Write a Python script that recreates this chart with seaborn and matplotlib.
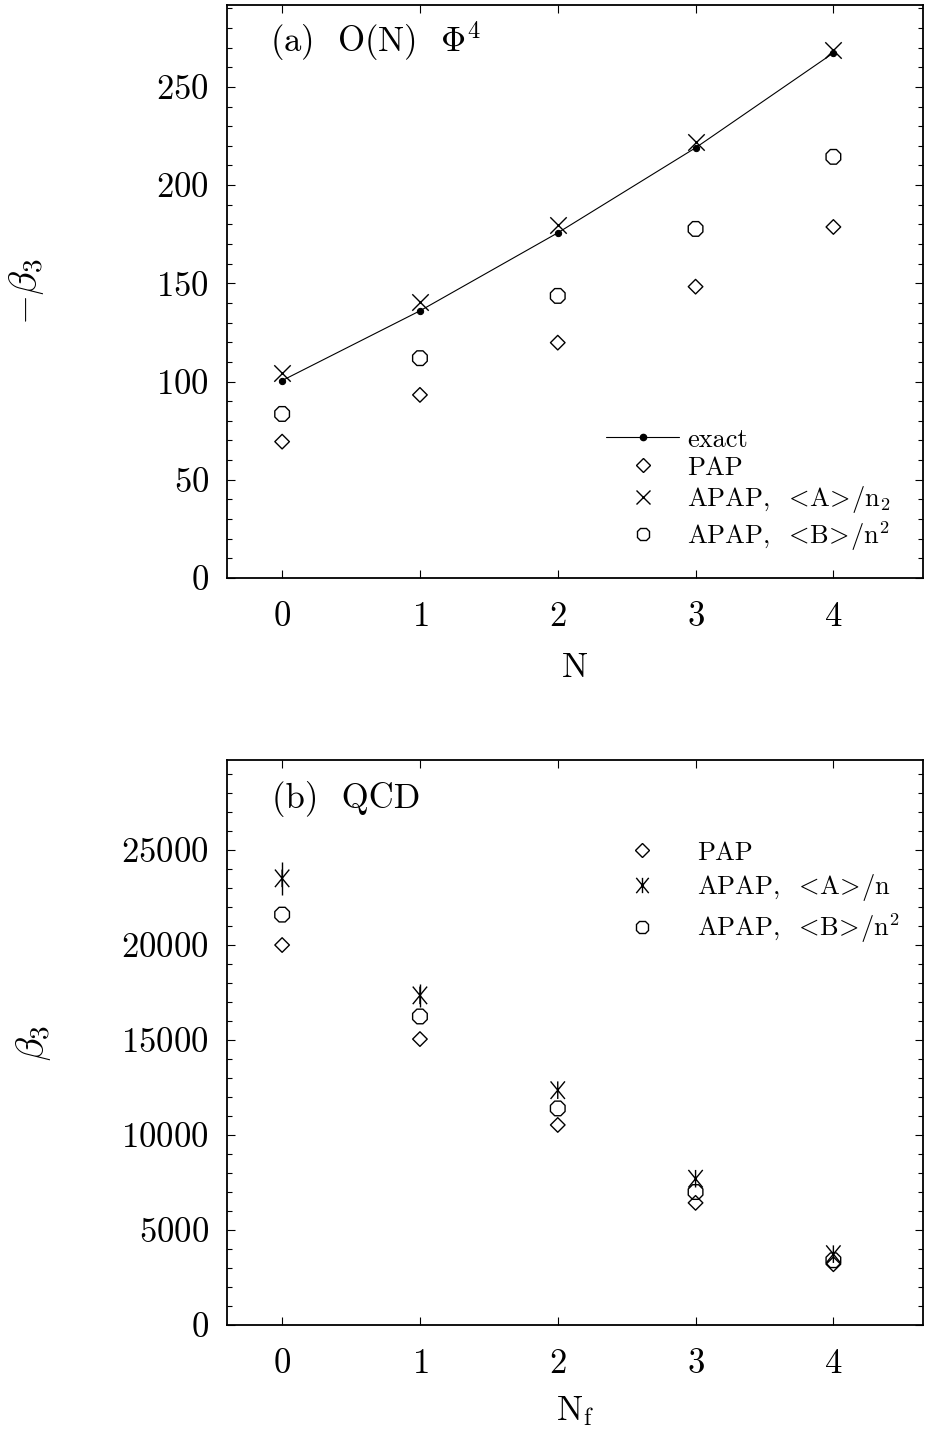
import numpy as np
import pandas as pd
import matplotlib
matplotlib.use("Agg")
import matplotlib.pyplot as plt
from matplotlib.path import Path
from matplotlib.lines import Line2D
from matplotlib.ticker import MultipleLocator
import seaborn as sns

# ---------------------------------------------------------------------------
# values
# ---------------------------------------------------------------------------
# (a) O(N) phi^4 : -beta_3 against N
n_vals = [0, 1, 2, 3, 4]
exact_a = [100.5, 136.0, 175.7, 219.0, 267.3]
pap_a = [69.4, 93.2, 119.8, 148.3, 178.7]
apap_A_a = [104.2, 140.7, 179.7, 222.0, 268.8]
apap_B_a = [83.5, 111.9, 143.6, 177.7, 214.4]

# (b) QCD : beta_3 against N_f
nf_vals = [0, 1, 2, 3, 4]
pap_b = [20000, 15050, 10530, 6430, 3200]
apap_A_b = [23510, 17350, 12360, 7700, 3730]
apap_A_b_err = [880, 600, 0, 0, 0]
apap_B_b = [21600, 16240, 11400, 7000, 3410]

lt, gt = r"$\!<\!$", r"$\!>\!$"
labels_a = ["exact", "PAP",
            "APAP,  " + lt + "A" + gt + "/n$_2$",
            "APAP,  " + lt + "B" + gt + "/n$^2$"]
labels_b = ["PAP",
            "APAP,  " + lt + "A" + gt + "/n",
            "APAP,  " + lt + "B" + gt + "/n$^2$"]

# ---------------------------------------------------------------------------
sns.set_style("ticks")
plt.rcParams.update({
    "font.family": ["cmr10", "DejaVu Serif"],
    "mathtext.fontset": "cm",
    "axes.formatter.use_mathtext": True,
    "axes.linewidth": 1.3,
    "axes.edgecolor": "black",
    "xtick.direction": "in",
    "ytick.direction": "in",
    "xtick.top": True,
    "ytick.right": True,
    "xtick.major.size": 6,
    "ytick.major.size": 6,
    "ytick.minor.size": 3.5,
    "xtick.major.width": 0.8,
    "ytick.major.width": 0.8,
    "ytick.minor.width": 0.8,
    "xtick.color": "black",
    "ytick.color": "black",
    "text.color": "black",
    "axes.labelcolor": "black",
})

# asterisk marker (cross with a vertical stroke)
star = Path([(-0.45, -0.55), (0.45, 0.55), (-0.45, 0.55), (0.45, -0.55),
             (0, -0.55), (0, 0.55)],
            [Path.MOVETO, Path.LINETO, Path.MOVETO, Path.LINETO,
             Path.MOVETO, Path.LINETO])

fig = plt.figure(figsize=(9.25, 14.32), dpi=100)
ax1 = fig.add_axes([0.2454, 0.5964, 0.7524, 0.4001])
ax2 = fig.add_axes([0.2454, 0.0747, 0.7524, 0.3946])

open_kw = dict(facecolor="none", edgecolor="black", color="black", linewidth=1.0, legend=False)

# ---- panel (a) ----
df_a = pd.DataFrame({"N": n_vals, "exact": exact_a, "PAP": pap_a,
                     "APAP_A": apap_A_a, "APAP_B": apap_B_a})
sns.lineplot(data=df_a, x="N", y="exact", ax=ax1, color="black", lw=0.8,
             marker="o", markersize=4.5, markeredgecolor="black")
sns.scatterplot(data=df_a, x="N", y="PAP", ax=ax1, marker="D", s=55, **open_kw)
sns.scatterplot(data=df_a, x="N", y="APAP_A", ax=ax1, marker="x", s=140,
                color="black", linewidth=1.0, legend=False)
sns.scatterplot(data=df_a, x="N", y="APAP_B", ax=ax1, marker="8", s=130, **open_kw)

ax1.set_xlim(-0.4, 4.65)
ax1.set_ylim(0, 291.7)
ax1.yaxis.set_major_locator(MultipleLocator(50))
ax1.yaxis.set_minor_locator(MultipleLocator(10))
ax1.set_xticks(n_vals)
ax1.set_xlabel("N", fontsize=25, labelpad=14)
ax1.set_ylabel(r"$-\beta_3$", fontsize=28)
ax1.yaxis.set_label_coords(-0.26, 0.5)
ax1.tick_params(axis="x", labelsize=25, pad=17)
ax1.tick_params(axis="y", labelsize=25, pad=13)
ax1.text(0.0616, 0.918, r"(a)  O(N)  $\Phi^4$", transform=ax1.transAxes,
         fontsize=25, va="baseline", ha="left")

h_a = [Line2D([], [], color="black", lw=0.8, marker="o", ms=4.5),
       Line2D([], [], ls="none", marker="D", mfc="none", mec="black", ms=7, mew=1.0),
       Line2D([], [], ls="none", marker="x", color="black", ms=10, mew=1.0),
       Line2D([], [], ls="none", marker="8", mfc="none", mec="black", ms=10, mew=1.0)]
ax1.legend(h_a, labels_a, loc="upper left", bbox_to_anchor=(0.545, 0.262),
           frameon=False, fontsize=19, handlelength=2.75, handletextpad=0.3,
           labelspacing=0.16, borderaxespad=0, borderpad=0)

# ---- panel (b) ----
df_b = pd.DataFrame({"Nf": nf_vals, "PAP": pap_b, "APAP_A": apap_A_b,
                     "err": apap_A_b_err, "APAP_B": apap_B_b})
ax2.errorbar(df_b["Nf"], df_b["APAP_A"], yerr=df_b["err"], fmt="none",
             ecolor="black", elinewidth=1.0, capsize=0)
sns.scatterplot(data=df_b, x="Nf", y="PAP", ax=ax2, marker="D", s=55, **open_kw)
sns.scatterplot(data=df_b, x="Nf", y="APAP_A", ax=ax2, marker=star, s=160,
                facecolor="none", edgecolor="black", color="black",
                linewidth=1.0, legend=False)
sns.scatterplot(data=df_b, x="Nf", y="APAP_B", ax=ax2, marker="8", s=130, **open_kw)

ax2.set_xlim(-0.4, 4.65)
ax2.set_ylim(0, 29740)
ax2.yaxis.set_major_locator(MultipleLocator(5000))
ax2.yaxis.set_minor_locator(MultipleLocator(1000))
ax2.set_xticks(nf_vals)
ax2.set_xlabel(r"N$_\mathrm{f}$", fontsize=25, labelpad=10)
ax2.set_ylabel(r"$\beta_3$", fontsize=28)
ax2.yaxis.set_label_coords(-0.25, 0.5)
ax2.tick_params(axis="x", labelsize=25, pad=17)
ax2.tick_params(axis="y", labelsize=25, pad=13)
ax2.text(0.0645, 0.915, "(b)  QCD", transform=ax2.transAxes,
         fontsize=25, va="baseline", ha="left")

h_b = [Line2D([], [], ls="none", marker="D", mfc="none", mec="black", ms=7, mew=1.0),
       Line2D([], [], ls="none", marker=star, mfc="none", mec="black", ms=11, mew=1.0),
       Line2D([], [], ls="none", marker="8", mfc="none", mec="black", ms=10, mew=1.0)]
ax2.legend(h_b, labels_b, loc="upper left", bbox_to_anchor=(0.539, 0.857),
           frameon=False, fontsize=19, handlelength=3.0, handletextpad=0.6,
           labelspacing=0.3, borderaxespad=0, borderpad=0)

fig.savefig("out.png", dpi=100)
